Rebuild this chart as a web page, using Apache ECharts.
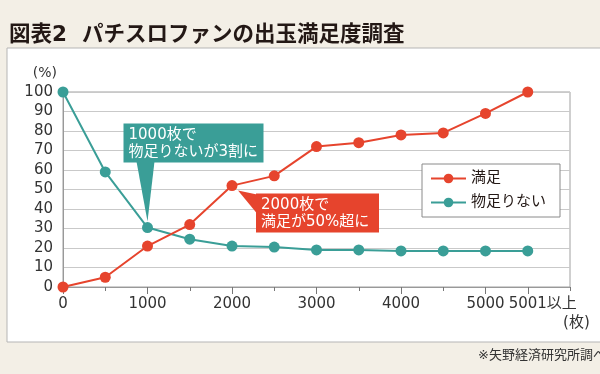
<!DOCTYPE html>
<html><head><meta charset="utf-8">
<script src="https://cdn.jsdelivr.net/npm/echarts@6/dist/echarts.min.js"></script>
<style>html,body{margin:0;padding:0;background:#f3efe6;}#c{width:600px;height:374px;}</style>
</head><body><div id="c"></div>
<script>
// ---- data ----
const categories = ['0','500','1000','1500','2000','2500','3000','3500','4000','4500','5000','5001以上',''];
const labeledCategories = ['0','1000','2000','3000','4000','5000','5001以上'];
const seriesNames = ['満足','物足りない'];
const satisfied = [0,5,21,32,52,57,72,74,78,79,89,100];
const unsatisfied = [100,59,30.5,24.5,21,20.5,19,19,18.5,18.5,18.5,18.5];
const yMin = 0, yMax = 100, yInterval = 10;
const titleText = '図表2  パチスロファンの出玉満足度調査';
const yUnit = '(%)';
const xUnit = '(枚)';
const noteText = '※矢野経済研究所調べ';
const calloutTexts = ['1000枚で\n物足りないが3割に', '2000枚で\n満足が50%超に'];
const calloutCategoryIdx = [2, 4];   // which category each callout points at
const calloutSeriesIdx = [1, 0];     // which series each callout points at

// ---- style ----
const RED = '#e6442d', TEAL = '#3a9e97';
const FONT = "'DejaVu Sans','Noto Sans CJK JP',sans-serif";
const seriesData = [satisfied, unsatisfied];
const colors = [RED, TEAL];

const chart = echarts.init(document.getElementById('c'), null, {renderer: 'canvas'});
const isLabeled = (i) => labeledCategories.indexOf(categories[i]) >= 0;

chart.setOption({
  animation: false,
  backgroundColor: '#f3efe6',
  textStyle: {fontFamily: FONT},
  title: {text: titleText, left: 4, top: 20, textStyle: {fontFamily: FONT, fontSize: 21.5, fontWeight: 'bold', color: '#231815'}},
  grid: {left: 63, right: 30, top: 92, bottom: 87, show: true, borderColor: '#a0a0a0', borderWidth: 1, backgroundColor: '#ffffff', containLabel: false},
  legend: {
    orient: 'vertical', left: 422, top: 164,
    itemWidth: 35, itemHeight: 12, itemGap: 9,
    padding: [7, 14, 7, 8],
    backgroundColor: '#fff', borderColor: '#8a8a8a', borderWidth: 1,
    textStyle: {fontSize: 15, color: '#231815', fontFamily: FONT},
    data: seriesNames
  },
  xAxis: [{
    type: 'category', data: categories, boundaryGap: false,
    axisLine: {lineStyle: {color: '#999', width: 1}},
    axisTick: {show: true, interval: 0, length: 4, lineStyle: {color: '#777'}},
    axisLabel: {
      interval: (i) => isLabeled(i), margin: 10, fontSize: 15, color: '#333', fontFamily: FONT, hideOverlap: false,
      showMaxLabel: true,
      formatter: v => v === '5001以上' ? '{n|5001}{k|以上}' : v,
      rich: {n: {fontSize: 15, color: '#333', fontFamily: FONT, padding: [0, 0, 0, 30]}, k: {fontSize: 15, color: '#333', fontFamily: FONT}}
    },
    splitLine: {show: false}
  }, {
    type: 'category', data: categories, boundaryGap: false, position: 'bottom', offset: 0,
    axisLine: {show: true, lineStyle: {color: 'rgba(0,0,0,0)'}},
    axisTick: {show: true, interval: (i) => isLabeled(i), length: 7, lineStyle: {color: '#777'}},
    axisLabel: {show: false}, splitLine: {show: false}
  }],
  yAxis: {
    type: 'value', min: yMin, max: yMax, interval: yInterval,
    axisLine: {show: true, lineStyle: {color: '#999'}},
    axisTick: {show: false},
    axisLabel: {fontSize: 15, color: '#333', margin: 10, fontFamily: FONT},
    splitLine: {lineStyle: {color: '#c9c9c9', width: 1}},
    name: yUnit, nameLocation: 'end', nameGap: 12,
    nameTextStyle: {fontSize: 14, color: '#333', align: 'right', padding: [0, 6, 0, 0], fontFamily: FONT}
  },
  series: seriesNames.map((n, k) => ({
    name: n, type: 'line', data: seriesData[k], xAxisIndex: 0,
    symbol: 'circle', symbolSize: 11, showSymbol: true,
    lineStyle: {width: 2, color: colors[k]},
    itemStyle: {color: colors[k]},
    z: k === 0 ? 4 : 3
  }))
});

// ---- annotations anchored to data points ----
function build() {
  const els = [];
  els.push({type: 'rect', shape: {x: 7, y: 48, width: 600, height: 294}, style: {fill: '#fff', stroke: '#b5b5b5', lineWidth: 1}, z: -100, silent: true});
  els.push({type: 'text', style: {text: noteText, x: 478, y: 356, fill: '#333', fontSize: 13, fontFamily: FONT, textVerticalAlign: 'middle'}, z: 10});
  const last = chart.convertToPixel({xAxisIndex: 0, yAxisIndex: 0}, [categories[11], 0]);
  els.push({type: 'text', style: {text: xUnit, x: last[0] + 62, y: last[1] + 36, fill: '#333', fontSize: 15, fontFamily: FONT, textAlign: 'right', textVerticalAlign: 'middle'}, z: 10});
  const boxes = [
    {dx: -24, dy: -104, w: 140, h: 39},
    {dx: 24, dy: 8, w: 123, h: 39}
  ];
  calloutTexts.forEach((t, i) => {
    const ci = calloutCategoryIdx[i], si = calloutSeriesIdx[i];
    const p = chart.convertToPixel({xAxisIndex: 0, yAxisIndex: 0}, [categories[ci], seriesData[si][ci]]);
    const b = boxes[i];
    const bx = p[0] + b.dx, by = p[1] + b.dy;
    const col = colors[si];
    let pts;
    if (i === 0) pts = [[p[0] - 11, by + b.h - 1], [p[0] + 7, by + b.h - 1], [p[0], p[1] - 6]];
    else pts = [[bx + 1, by + 1], [bx + 1, by + 20], [p[0] + 6, p[1] + 5]];
    els.push({type: 'polygon', shape: {points: pts}, style: {fill: col}, z: 100, silent: true});
    els.push({type: 'rect', shape: {x: bx, y: by, width: b.w, height: b.h}, style: {fill: col}, z: 100, silent: true});
    els.push({type: 'text', style: {text: t, x: bx + 5, y: by + b.h / 2 + 1, fill: '#fff', fontSize: 15, lineHeight: 17, fontFamily: FONT, textVerticalAlign: 'middle'}, z: 101, silent: true});
  });
  chart.setOption({graphic: {elements: els}});
}
build();
</script></body></html>
